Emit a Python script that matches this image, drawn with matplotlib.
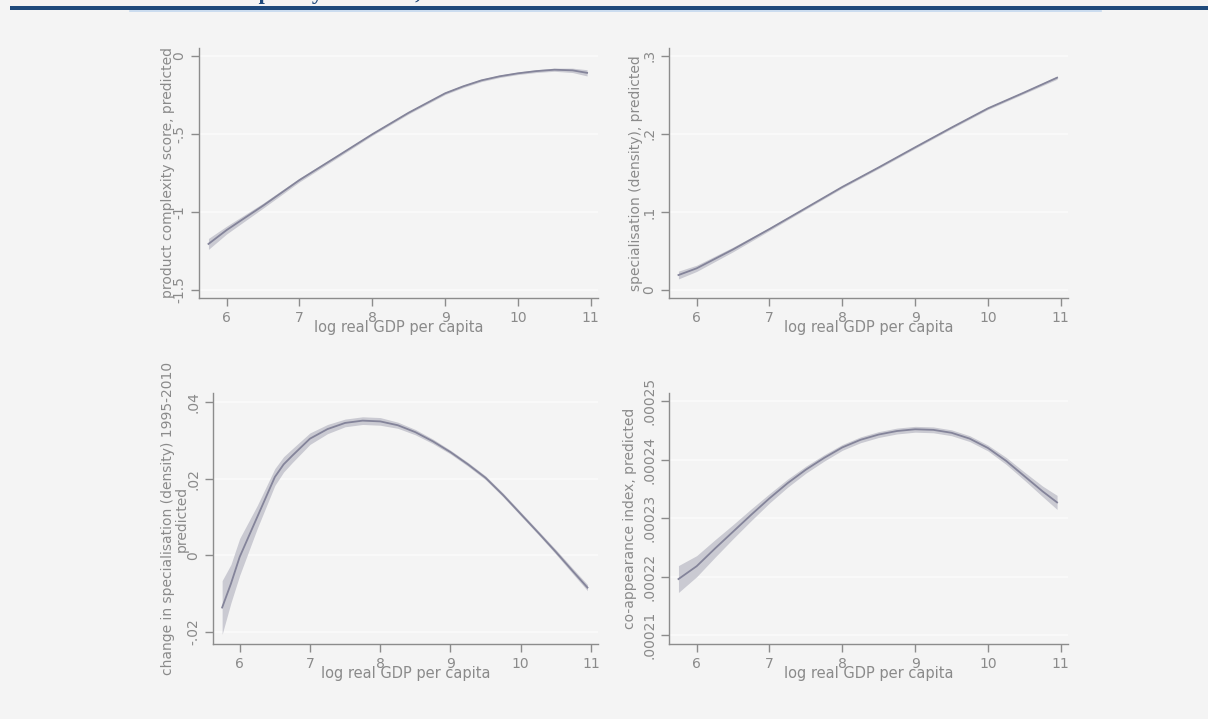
import numpy as np
import matplotlib.pyplot as plt
from matplotlib.lines import Line2D
from matplotlib.patches import Rectangle

# values
# panel 1: product complexity score
x_pcs = [5.75, 6.0, 6.5, 7.0, 7.5, 8.0, 8.5, 9.0, 9.25, 9.5, 9.75, 10.0, 10.25, 10.5, 10.75, 10.95]
y_pcs = [-1.205, -1.116, -0.96, -0.796, -0.65, -0.503, -0.365, -0.241, -0.196, -0.158, -0.132,
         -0.113, -0.099, -0.09, -0.094, -0.11]
ci_pcs = [0.035, 0.025, 0.016, 0.012, 0.01, 0.008, 0.008, 0.008, 0.008, 0.008, 0.008, 0.008,
          0.009, 0.01, 0.014, 0.02]

# panel 2: specialisation (density)
x_den = [5.75, 6.0, 6.5, 7.0, 7.5, 8.0, 8.5, 9.0, 9.5, 10.0, 10.5, 10.95]
y_den = [0.0192, 0.0278, 0.052, 0.0781, 0.105, 0.132, 0.157, 0.1827, 0.208, 0.2326, 0.253, 0.2719]
ci_den = [0.005, 0.004, 0.003, 0.002, 0.0015, 0.0015, 0.0015, 0.0015, 0.0015, 0.0015, 0.0015, 0.002]

# panel 3: change in specialisation 1995-2010
x_chg = [5.75, 5.875, 6.0, 6.25, 6.5, 6.625, 6.75, 7.0, 7.25, 7.5, 7.75, 8.0, 8.25, 8.5, 8.75,
         9.0, 9.25, 9.5, 9.75, 10.0, 10.25, 10.5, 10.75, 10.95]
y_chg = [-0.0136, -0.0074, -0.0004, 0.0100, 0.0204, 0.0237, 0.026, 0.0304, 0.0329, 0.0345, 0.0351,
         0.0349, 0.0339, 0.0321, 0.0297, 0.0269, 0.0237, 0.0202, 0.0157, 0.0108, 0.0059, 0.0009,
         -0.0043, -0.0084]
ci_chg = [0.007, 0.005, 0.0048, 0.003, 0.0022, 0.002, 0.0018, 0.0015, 0.0012, 0.001, 0.001, 0.001,
          0.0008, 0.0007, 0.0006, 0.0005, 0.0005, 0.0005, 0.0005, 0.0005, 0.0005, 0.0006, 0.0007,
          0.0008]

# panel 4: co-appearance index
x_coa = [5.75, 6.0, 6.25, 6.5, 6.75, 7.0, 7.25, 7.5, 7.75, 8.0, 8.25, 8.5, 8.75, 9.0, 9.25, 9.5,
         9.75, 10.0, 10.25, 10.5, 10.75, 10.95]
y_coa = [0.0002196, 0.0002218, 0.0002248, 0.0002277, 0.0002306, 0.0002334, 0.0002360, 0.0002383,
         0.0002403, 0.0002421, 0.0002434, 0.0002443, 0.0002449, 0.0002452, 0.0002451, 0.0002446,
         0.0002436, 0.0002420, 0.0002398, 0.0002372, 0.0002346, 0.0002327]
ci_coa = [2.3e-6, 1.8e-6, 1.5e-6, 1.2e-6, 1.0e-6, 0.8e-6, 0.7e-6, 0.6e-6, 0.55e-6, 0.5e-6, 0.5e-6,
          0.5e-6, 0.5e-6, 0.5e-6, 0.5e-6, 0.5e-6, 0.5e-6, 0.5e-6, 0.6e-6, 0.7e-6, 0.9e-6, 1.2e-6]

xticks = [6, 7, 8, 9, 10, 11]
xlab = 'log real GDP per capita'

bg = '#f4f4f4'
txt = '#8a8a8a'
linecol = '#84849a'
bandcol = '#cacad2'

plt.rcParams['font.family'] = ['DejaVu Sans']

fig = plt.figure(figsize=(12.08, 7.19), dpi=100, facecolor=bg)
W, H = 1208.0, 719.0

def make_ax(l, r, t, b):
    return fig.add_axes([l / W, 1 - b / H, (r - l) / W, (b - t) / H])

panels = [
    # x, y, ci, box, ylim, yticks, yticklabels, ylabel, ylabel x
    (x_pcs, y_pcs, ci_pcs, (199, 598, 48, 298), (-1.551, 0.049), [-1.5, -1, -0.5, 0],
     ['-1.5', '-1', '-.5', '0'], 'product complexity score, predicted', -0.078),
    (x_den, y_den, ci_den, (669, 1068, 48, 298), (-0.0102, 0.3099), [0, 0.1, 0.2, 0.3],
     ['0', '.1', '.2', '.3'], 'specialisation (density), predicted', -0.082),
    (x_chg, y_chg, ci_chg, (213, 598, 393, 644), (-0.0231, 0.0423), [-0.02, 0, 0.02, 0.04],
     ['-.02', '0', '.02', '.04'], 'change in specialisation (density) 1995-2010\npredicted', -0.099),
    (x_coa, y_coa, ci_coa, (669, 1068, 393, 644), (0.0002085, 0.0002514),
     [0.00021, 0.00022, 0.00023, 0.00024, 0.00025],
     ['.00021', '.00022', '.00023', '.00024', '.00025'], 'co-appearance index, predicted', -0.098),
]

for xs, ys, ci, box, ylim, yt, ytl, ylab, ylx in panels:
    ax = make_ax(*box)
    ax.set_facecolor(bg)
    xs = np.array(xs)
    ys = np.array(ys)
    ci = np.array(ci)
    ax.fill_between(xs, ys - ci, ys + ci, color=bandcol, lw=0, zorder=2)
    ax.plot(xs, ys, color=linecol, lw=1.3, zorder=3, solid_joinstyle='round')
    ax.set_xlim(5.62, 11.1)
    ax.set_ylim(*ylim)
    ax.set_xticks(xticks)
    ax.set_xticklabels([str(v) for v in xticks])
    ax.set_yticks(yt)
    ax.set_yticklabels(ytl, rotation=90, va='center')
    for ypos in yt:
        ax.axhline(ypos, color='#fbfbfb', lw=1.2, zorder=1)
    for s in ['top', 'right']:
        ax.spines[s].set_visible(False)
    for s in ['left', 'bottom']:
        ax.spines[s].set_color('#8c8c8c')
        ax.spines[s].set_linewidth(1.0)
    ax.tick_params(colors='#8c8c8c', labelcolor=txt, labelsize=10, length=6, width=1)
    ax.tick_params(axis='x', pad=3)
    ax.tick_params(axis='y', pad=3)
    ax.set_xlabel(xlab, color=txt, fontsize=10.5, va='center')
    ax.xaxis.set_label_coords(0.5, -0.119)
    ax.set_ylabel(ylab, color=txt, fontsize=10, va='center', ha='center',
                  multialignment='center', linespacing=0.95)
    ax.yaxis.set_label_coords(ylx, 0.5)

# page decorations from the document around the chart
fig.add_artist(Rectangle((10 / W, 1 - 9.5 / H), 1 - 10 / W, 3.5 / H, transform=fig.transFigure,
                         color='#1f4a7c', lw=0))
fig.add_artist(Line2D([130 / W, 1101 / W], [1 - 10.5 / H, 1 - 10.5 / H], transform=fig.transFigure,
                      color='#c3d8ee', lw=1.2))
fig.text(137 / W, 1 + 0.5 / H, 'Product complexity and GDP,', color='#1f4a7c', fontsize=16,
         family='Liberation Serif', weight='bold', va='baseline', ha='left')

fig.savefig('out.png', dpi=100, facecolor=bg)
